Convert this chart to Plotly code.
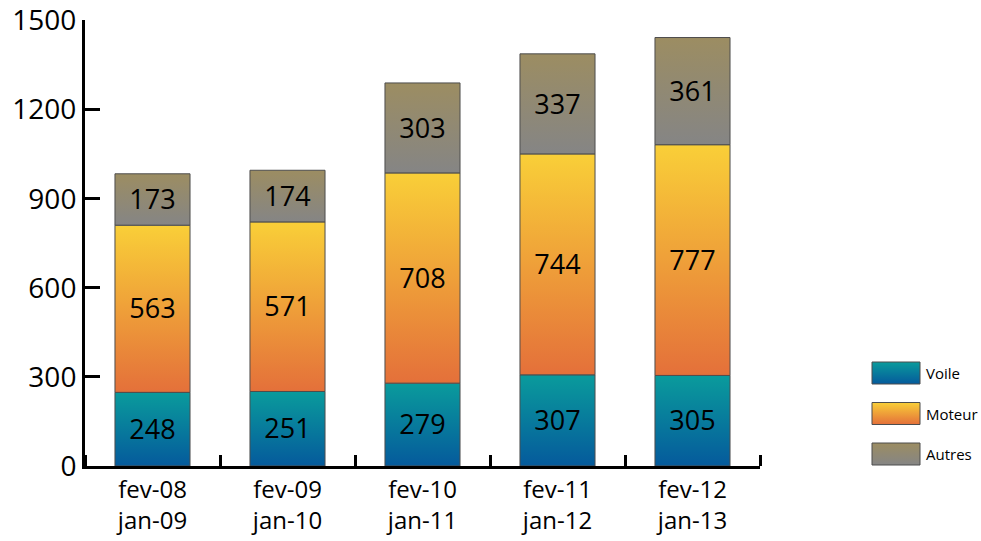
import plotly.graph_objects as go

categories = ["fev-08<br>jan-09", "fev-09<br>jan-10", "fev-10<br>jan-11", "fev-11<br>jan-12", "fev-12<br>jan-13"]
voile = [248, 251, 279, 307, 305]
moteur = [563, 571, 708, 744, 777]
autres = [173, 174, 303, 337, 361]
series_names = ["Voile", "Moteur", "Autres"]
y_ticks = [0, 300, 600, 900, 1200, 1500]

# gradient (bottom, top) per series
grad = {
    "Voile": ("#055a9c", "#0a9b9c"),
    "Moteur": ("#e4703a", "#f9cf38"),
    "Autres": ("#858585", "#9c8d62"),
}

FONT = "Open Sans"
BAR_W = 0.556
OUTLINE = "#4d4d4d"

fig = go.Figure()
series_vals = [voile, moteur, autres]
bases = [0] * len(categories)
text_traces = []
for name, vals in zip(series_names, series_vals):
    bot, top = grad[name]
    for i, v in enumerate(vals):
        x0, x1 = i - BAR_W / 2, i + BAR_W / 2
        y0, y1 = bases[i], bases[i] + v
        fig.add_trace(go.Scatter(
            x=[x0, x1, x1, x0, x0], y=[y0, y0, y1, y1, y0],
            fill="toself", mode="lines",
            line=dict(color=OUTLINE, width=1),
            fillgradient=dict(type="vertical", colorscale=[[0, bot], [1, top]]),
            showlegend=False, hoverinfo="skip", xaxis="x", yaxis="y"))
    text_traces.append(go.Scatter(
        x=list(range(len(vals))), y=[b + v / 2 - 10 for b, v in zip(bases, vals)],
        mode="text", text=[str(v) for v in vals],
        textfont=dict(family=FONT, size=27, color="black"),
        showlegend=False, hoverinfo="skip"))
    bases = [b + v for b, v in zip(bases, vals)]
for t in text_traces:
    fig.add_trace(t)

# custom legend (pixel-like coordinates on a hidden axis)
L, R, T, B = 85, 0, 20, 75
W, H = 981, 541
plot_w = W - L - R
main_right = 675 / plot_w
leg_left_px = 860
for k, name in enumerate(series_names):
    bot, top = grad[name]
    cy = (466 - 373) - 40.5 * k
    fig.add_trace(go.Scatter(
        x=[872, 920, 920, 872, 872], y=[cy - 11, cy - 11, cy + 11, cy + 11, cy - 11],
        fill="toself", mode="lines", line=dict(color=OUTLINE, width=1),
        fillgradient=dict(type="vertical", colorscale=[[0, bot], [1, top]]),
        showlegend=False, hoverinfo="skip", xaxis="x2", yaxis="y2"))
    fig.add_annotation(x=924, y=cy, xref="x2", yref="y2", text=name, showarrow=False,
                       xanchor="left", yanchor="middle",
                       font=dict(family=FONT, size=15, color="black"))

fig.update_layout(
    width=W, height=H,
    margin=dict(l=L, r=R, t=T, b=B, autoexpand=False),
    paper_bgcolor="white", plot_bgcolor="white",
    font=dict(family=FONT, color="black"),
    xaxis=dict(
        domain=[0, main_right], range=[-0.5, len(categories) - 0.5],
        tickmode="array", tickvals=list(range(len(categories))), ticktext=categories,
        ticks="", showgrid=False, zeroline=False, automargin=False,
        showline=True, linewidth=3, linecolor="black",
        tickfont=dict(family=FONT, size=24, color="black"),
        minor=dict(tickmode="array", tickvals=[i - 0.5 for i in range(len(categories) + 1)],
                   ticks="inside", ticklen=11, tickwidth=3, tickcolor="black", showgrid=False),
        fixedrange=True),
    yaxis=dict(
        range=[0, 1502], tickmode="array", tickvals=y_ticks,
        ticks="inside", ticklen=15, tickwidth=3, tickcolor="black",
        showgrid=False, zeroline=False, automargin=False,
        showline=True, linewidth=3, linecolor="black",
        tickfont=dict(family=FONT, size=28, color="black"),
        ticklabeloverflow="allow",
        fixedrange=True),
    xaxis2=dict(domain=[(leg_left_px - L) / plot_w, 1], range=[leg_left_px, W - R],
                visible=False, fixedrange=True),
    yaxis2=dict(domain=[0, 1], range=[0, 466 - 20], anchor="x2",
                visible=False, fixedrange=True),
    showlegend=False,
)

fig.write_html("out.html", config={"displayModeBar": False, "staticPlot": True},
               post_script="document.body.style.margin='0px';document.body.style.overflow='hidden';")
